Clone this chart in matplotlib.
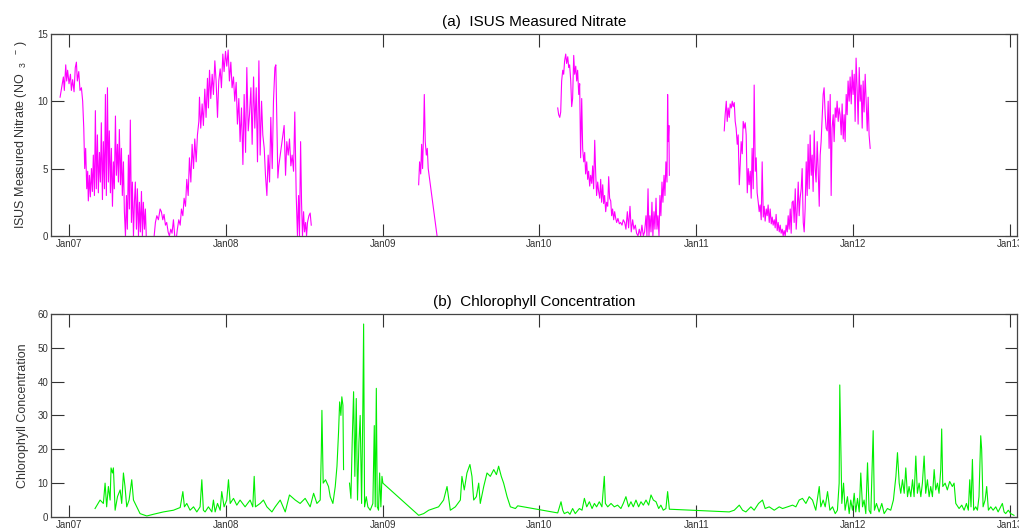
import numpy as np
import matplotlib
matplotlib.use("Agg")
import matplotlib.pyplot as plt

plt.rcParams['font.family'] = ['Liberation Sans', 'DejaVu Sans']
plt.rcParams['mathtext.default'] = 'regular'

# ISUS nitrate, time in decimal years (NaN = gap in record)
nitrate_year = [
    2006.943, 2006.953, 2006.964, 2006.970, 2006.979, 2006.985, 2006.991, 2007.000, 2007.009, 2007.015,
    2007.023, 2007.032, 2007.040, 2007.047, 2007.053, 2007.062, 2007.070, 2007.079, 2007.087, 2007.094,
    2007.100, 2007.106, 2007.113, 2007.119, 2007.123, 2007.130, 2007.136, 2007.143, 2007.149, 2007.155,
    2007.162, 2007.168, 2007.174, 2007.181, 2007.187, 2007.194, 2007.200, 2007.206, 2007.213, 2007.219,
    2007.226, 2007.232, 2007.238, 2007.245, 2007.251, 2007.257, 2007.264, 2007.270, 2007.277, 2007.283,
    2007.289, 2007.296, 2007.302, 2007.309, 2007.315, 2007.321, 2007.328, 2007.334, 2007.340, 2007.347,
    2007.353, 2007.360, 2007.366, 2007.372, 2007.379, 2007.385, 2007.391, 2007.398, 2007.404, 2007.411,
    2007.417, 2007.423, 2007.430, 2007.436, 2007.443, 2007.449, 2007.455, 2007.462, 2007.468, 2007.474,
    2007.481, 2007.487, 2007.494, np.nan,
    2007.543, 2007.551, 2007.560, 2007.570, 2007.581, 2007.589, 2007.598, 2007.606, 2007.615, 2007.623,
    2007.632, 2007.640, 2007.649, 2007.657, 2007.666, 2007.674, 2007.683, 2007.691, 2007.700, 2007.709,
    2007.717, 2007.726, 2007.734, 2007.743, 2007.751, 2007.760, 2007.768, 2007.777, 2007.785, 2007.794,
    2007.802, 2007.811, 2007.819, 2007.828, 2007.832, 2007.840, 2007.849, 2007.857, 2007.866, 2007.874,
    2007.883, 2007.889, 2007.896, 2007.904, 2007.913, 2007.921, 2007.930, 2007.938, 2007.947, 2007.955,
    2007.964, 2007.972, 2007.981, 2007.989, 2007.998, 2008.006, 2008.015, 2008.023, 2008.032, 2008.040,
    2008.049, 2008.057, 2008.066, 2008.074, 2008.083, 2008.091, 2008.100, 2008.109, 2008.117, 2008.126,
    2008.134, 2008.143, 2008.151, 2008.160, 2008.168, 2008.177, 2008.185, 2008.194, 2008.202, 2008.211,
    2008.219, 2008.228, 2008.236, 2008.245, 2008.253, 2008.262, 2008.270, 2008.279, 2008.287, 2008.296,
    2008.304, 2008.313, 2008.319, 2008.326, 2008.332, 2008.338, 2008.372, 2008.381, 2008.389, 2008.398,
    2008.406, 2008.415, 2008.423, 2008.432, 2008.440, 2008.449, 2008.457, 2008.464, 2008.470, 2008.477,
    2008.483, 2008.489, 2008.496, 2008.502, 2008.509, 2008.515, 2008.521, 2008.530, 2008.538, 2008.545,
    np.nan,
    2009.230, 2009.236, 2009.243, 2009.249, 2009.255, 2009.262, 2009.266, 2009.272, 2009.279, 2009.285,
    2009.291, 2009.347, 2009.353, np.nan,
    2010.117, 2010.123, 2010.130, 2010.136, 2010.142, 2010.149, 2010.155, 2010.161, 2010.168, 2010.174,
    2010.181, 2010.187, 2010.193, 2010.200, 2010.206, 2010.212, 2010.219, 2010.225, 2010.232, 2010.238,
    2010.244, 2010.251, 2010.257, 2010.263, 2010.270, 2010.276, 2010.283, 2010.289, 2010.295, 2010.302,
    2010.308, 2010.314, 2010.321, 2010.327, 2010.334, 2010.340, 2010.346, 2010.353, 2010.359, 2010.365,
    2010.372, 2010.378, 2010.385, 2010.391, 2010.397, 2010.404, 2010.410, 2010.416, 2010.423, 2010.429,
    2010.436, 2010.442, 2010.448, 2010.455, 2010.461, 2010.467, 2010.474, 2010.480, 2010.487, 2010.493,
    2010.501, 2010.510, 2010.518, 2010.527, 2010.535, 2010.544, 2010.552, 2010.561, 2010.569, 2010.578,
    2010.586, 2010.595, 2010.603, 2010.612, 2010.620, 2010.629, 2010.637, 2010.646, 2010.654, 2010.663,
    2010.671, 2010.680, 2010.686, 2010.693, 2010.699, 2010.705, 2010.712, 2010.718, 2010.724, 2010.731,
    2010.737, 2010.744, 2010.750, 2010.756, 2010.763, 2010.769, 2010.775, 2010.782, 2010.788, 2010.795,
    2010.801, 2010.807, 2010.814, 2010.818, 2010.822, 2010.826, 2010.829, np.nan,
    2011.179, 2011.185, 2011.192, 2011.198, 2011.204, 2011.211, 2011.217, 2011.224, 2011.230, 2011.236,
    2011.243, 2011.249, 2011.255, 2011.262, 2011.268, 2011.275, 2011.281, 2011.287, 2011.294, 2011.300,
    2011.306, 2011.313, 2011.319, 2011.326, 2011.332, 2011.338, 2011.345, 2011.351, 2011.357, 2011.364,
    2011.370, 2011.377, 2011.383, 2011.389, 2011.396, 2011.402, 2011.408, 2011.415, 2011.421, 2011.428,
    2011.434, 2011.440, 2011.447, 2011.453, 2011.459, 2011.466, 2011.472, 2011.479, 2011.485, 2011.491,
    2011.498, 2011.504, 2011.510, 2011.517, 2011.523, 2011.530, 2011.536, 2011.542, 2011.549, 2011.555,
    2011.561, 2011.568, 2011.574, 2011.581, 2011.587, 2011.593, 2011.600, 2011.606, 2011.612, 2011.619,
    2011.625, 2011.632, 2011.638, 2011.644, 2011.651, 2011.657, 2011.663, 2011.670, 2011.676, 2011.683,
    2011.689, 2011.695, 2011.702, 2011.708, 2011.714, 2011.721, 2011.727, 2011.734, 2011.740, 2011.746,
    2011.753, 2011.759, 2011.765, 2011.772, 2011.778, 2011.785, 2011.791, 2011.797, 2011.804, 2011.810,
    2011.816, 2011.823, 2011.829, 2011.836, 2011.842, 2011.848, 2011.855, 2011.861, 2011.867, 2011.874,
    2011.880, 2011.887, 2011.893, 2011.899, 2011.906, 2011.912, 2011.918, 2011.925, 2011.931, 2011.938,
    2011.944, 2011.950, 2011.957, 2011.963, 2011.969, 2011.976, 2011.982, 2011.989, 2011.995, 2012.001,
    2012.008, 2012.014, 2012.020, 2012.027, 2012.033, 2012.040, 2012.046, 2012.052, 2012.059, 2012.065,
    2012.071, 2012.078, 2012.084, 2012.091, 2012.097, 2012.103, 2012.110,
]
nitrate_val = [
    10.3, 11, 11.8, 10.8, 12.7, 11.5, 12.3, 11.3, 12, 10.8,
    11.6, 10.7, 12.5, 12.9, 11.5, 12.2, 10.8, 11, 10, 8,
    5, 6.5, 3.5, 4.8, 2.6, 4.5, 2.9, 5, 3.3, 6,
    3, 9.3, 3.5, 7.5, 3.2, 6.2, 4, 8.4, 2.7, 7,
    3.5, 10.5, 3, 11, 4, 7.8, 3.2, 6.5, 2.2, 5.5,
    3.5, 8.9, 4.5, 6.8, 4, 7.9, 3.8, 6.5, 3, 5.5,
    1.8, 0, 3, 0.5, 6, 2, 8.6, 1, 4, 0,
    2.5, 4, 0.5, 3.5, 0, 2.5, 0.3, 3.3, 0, 2.5,
    0.5, 2, -0.5, np.nan,
    0, 1, 1.5, 1.2, 2, 1.8, 1.2, 1.6, 0.8, 1,
    0.3, 0, 0.5, 0.2, 1.2, 0, -0.3, 0.5, 1.2, 0.8,
    2, 1.5, 2.8, 2.2, 4.2, 3, 5.8, 4, 6.8, 5,
    7.2, 5.5, 7.5, 8.5, 10.3, 8, 9.8, 8.2, 10.9, 8.8,
    11.7, 9.5, 12.3, 10.2, 12, 10.5, 13, 11.5, 8.8, 11.5,
    12.4, 11, 13.5, 12.2, 13.7, 12.6, 13.8, 11.5, 12.9, 11,
    11.8, 10, 11.4, 8.3, 10.2, 7, 9.5, 5.3, 10.5, 6.2,
    12.5, 7.8, 9, 11, 6.8, 11.8, 8, 11, 5.5, 13,
    6, 10, 7.5, 6.5, 4.5, 3, 6, 4, 8.8, 5,
    10, 12.5, 12.7, 8, 4.3, 5.2, 8.2, 4.5, 7, 6,
    7.2, 5.2, 6, 4.8, 9.2, 3, 0, 3, 0, 7,
    2.5, 0, 1.8, 0.3, 1, 0, 1, 1.5, 1.7, 0.8,
    np.nan,
    3.8, 5.5, 4.6, 6.8, 5, 8, 10.5, 7, 6, 6.5,
    5, 0, -0.5, np.nan,
    9.5, 9, 8.8, 9.2, 11.5, 12.3, 12, 13, 13.5, 12.8,
    13.3, 12.5, 12.7, 11.5, 9.6, 10.2, 13.4, 12, 12.6, 11.5,
    12.3, 10.5, 11.3, 5.8, 10.2, 6.5, 5.5, 6.2, 4.6, 5.5,
    4.2, 4.8, 3.7, 4.5, 3.9, 5.2, 3.5, 7.1, 4.7, 3,
    4, 3.3, 2.8, 4.2, 2.5, 3.8, 2.4, 3, 1.8, 2.5,
    2.2, 4.4, 2.8, 2.6, 1.5, 2, 1.2, 1.8, 1.3, 1,
    1.3, 0.9, 1, 0.8, 1.2, 1, 0.5, 1.8, 0.6, 2.2,
    0.3, 1.2, 0.5, 0.8, 0.2, 0, 0.5, 0, 0.8, 0,
    0.3, 1.5, 0, 3.5, 0, 1.5, 0.3, 2.5, 0, 1.8,
    0.5, 2.8, 0.5, 1.5, 0, 3, 1.5, 4, 2.5, 4.5,
    3, 5.5, 4, 10.5, 7, 8.2, 4.5, np.nan,
    7.8, 9, 10, 8.5, 9.5, 8.8, 9.8, 9.5, 10, 9.6,
    9.9, 8.5, 8, 6.8, 7.5, 3.8, 5.3, 7, 6.1, 8.5,
    8, 8.4, 7.5, 3.2, 5, 3.8, 4.8, 2.8, 6.5, 3.5,
    11.2, 4.8, 5.8, 3.2, 2.5, 1.8, 2.3, 1.2, 5.5, 1.4,
    2.2, 1.1, 2, 1.5, 2.3, 1, 2, 0.9, 1.4, 0.8,
    1.2, 0.6, 1.6, 0.4, 1, 0.3, 0.8, 0.2, 0.5, 0,
    0.4, 0, 0.8, 0.3, 1.5, 0.5, 2, 0.2, 2.5, 2.6,
    1, 3.5, 0.5, 1.8, 4, 1.5, 2.8, 3.5, 5, 1,
    0.3, 2, 5.5, 3, 6.8, 3.5, 7.5, 4.5, 6, 3.3,
    7.8, 5, 4, 7, 5, 2.2, 6, 7, 8.8, 10.5,
    11, 9, 8, 7.8, 10, 6.5, 10.5, 3, 8, 9,
    7, 9.5, 8.8, 10, 8.5, 9.5, 9, 7.5, 9.8, 7.2,
    9, 7, 10.5, 9, 11.5, 10, 11.8, 9.8, 12.3, 10.5,
    12, 8.5, 13.2, 10.8, 8.3, 12.5, 10, 11.2, 8, 11.5,
    9.2, 12, 10, 7.8, 10.3, 7.5, 6.5,
]

# chlorophyll concentration, time in decimal years
chl_year = [
    2007.166, 2007.198, 2007.219, 2007.230, 2007.240, 2007.251, 2007.262, 2007.268, 2007.277, 2007.283,
    2007.294, 2007.309, 2007.326, 2007.336, 2007.347, 2007.357, 2007.368, 2007.383, 2007.400, 2007.411,
    2007.432, 2007.453, 2007.496, 2007.538, 2007.602, 2007.666, 2007.709, 2007.726, 2007.736, 2007.751,
    2007.772, 2007.794, 2007.815, 2007.836, 2007.847, 2007.857, 2007.868, 2007.889, 2007.911, 2007.921,
    2007.932, 2007.947, 2007.964, 2007.974, 2007.989, 2008.006, 2008.017, 2008.028, 2008.049, 2008.070,
    2008.091, 2008.123, 2008.155, 2008.172, 2008.181, 2008.189, 2008.219, 2008.240, 2008.262, 2008.294,
    2008.315, 2008.347, 2008.379, 2008.406, 2008.443, 2008.474, 2008.506, 2008.538, 2008.560, 2008.581,
    2008.602, 2008.609, 2008.613, 2008.621, 2008.636, 2008.655, 2008.666, 2008.683, 2008.698, 2008.709,
    2008.719, 2008.726, 2008.734, 2008.740, 2008.747, 2008.751, np.nan,
    2008.789, 2008.798, 2008.806, 2008.815, 2008.823, 2008.832, 2008.840, 2008.849, 2008.857, 2008.866,
    2008.874, 2008.879, 2008.885, 2008.896, 2008.906, 2008.921, 2008.938, 2008.947, 2008.953, 2008.960,
    2008.966, 2008.974, 2008.981, 2008.989, 2008.996, 2009.002,
    2009.230, 2009.262, 2009.294, 2009.326, 2009.357, 2009.389, 2009.411, 2009.432, 2009.464, 2009.496,
    2009.506, 2009.521, 2009.538, 2009.557, 2009.570, 2009.581, 2009.598, 2009.613, 2009.623, 2009.645,
    2009.666, 2009.687, 2009.709, 2009.726, 2009.740, 2009.757, 2009.772, 2009.794, 2009.815, 2009.847,
    2009.862, 2010.117, 2010.138, 2010.149, 2010.159, 2010.181, 2010.195, 2010.212, 2010.229, 2010.255,
    2010.272, 2010.287, 2010.302, 2010.319, 2010.336, 2010.351, 2010.365, 2010.382, 2010.399, 2010.414,
    2010.421, 2010.436, 2010.457, 2010.478, 2010.499, 2010.520, 2010.535, 2010.552, 2010.569, 2010.584,
    2010.599, 2010.616, 2010.633, 2010.648, 2010.663, 2010.680, 2010.697, 2010.712, 2010.727, 2010.744,
    2010.761, 2010.775, 2010.790, 2010.807, 2010.818, 2010.829,
    2011.211, 2011.243, 2011.275, 2011.296, 2011.317, 2011.349, 2011.370, 2011.398, 2011.423, 2011.440,
    2011.466, 2011.498, 2011.530, 2011.551, 2011.583, 2011.615, 2011.636, 2011.657, 2011.678, 2011.700,
    2011.721, 2011.742, 2011.763, 2011.785, 2011.795, 2011.810, 2011.823, 2011.838, 2011.853, 2011.870,
    2011.887, 2011.901, 2011.912, 2011.916, 2011.923, 2011.929, 2011.940, 2011.950, 2011.965, 2011.976,
    2011.986, 2011.997, 2012.008, 2012.018, 2012.029, 2012.040, 2012.050, 2012.061, 2012.071, 2012.082,
    2012.093, 2012.103, 2012.114, 2012.129, 2012.137, 2012.150, 2012.167, 2012.184, 2012.199, 2012.220,
    2012.241, 2012.258, 2012.274, 2012.284, 2012.295, 2012.305, 2012.316, 2012.327, 2012.337, 2012.348,
    2012.358, 2012.369, 2012.380, 2012.390, 2012.401, 2012.411, 2012.422, 2012.433, 2012.443, 2012.454,
    2012.464, 2012.475, 2012.486, 2012.496, 2012.507, 2012.518, 2012.528, 2012.539, 2012.549, 2012.560,
    2012.566, 2012.573, 2012.588, 2012.602, 2012.617, 2012.634, 2012.645, 2012.656, 2012.677, 2012.694,
    2012.709, 2012.724, 2012.736, 2012.745, 2012.753, 2012.762, 2012.770, 2012.783, 2012.794, 2012.804,
    2012.815, 2012.821, 2012.830, 2012.843, 2012.853, 2012.864, 2012.879, 2012.894, 2012.911, 2012.926,
    2012.942, 2012.953, 2012.964, 2012.974, 2012.991, 2013.006, 2013.027,
]
chl_val = [
    2.5, 5, 4, 10, 3, 9, 5, 14.5, 13, 14.5,
    2, 6, 8, 4, 13, 9, 3, 5, 11, 5,
    3, 1, 0.3, 0.8, 1.5, 2, 2.8, 7.5, 3, 4,
    2, 3, 1.5, 3, 11, 2, 1.5, 3, 1.5, 5,
    1.5, 4, 2, 7.5, 3, 5, 11, 4, 5.5, 3.5,
    5, 3, 5, 3, 12, 3, 4, 5, 3, 1.5,
    3, 5, 1.5, 6.5, 5, 4, 5.5, 3, 7, 4,
    5, 19, 31.5, 10, 11, 9, 6, 4, 9, 15,
    25, 34, 30, 35.5, 33, 14, np.nan,
    10, 5.5, 22, 37, 12, 35, 5, 22, 30, 4,
    32, 57, 3, 6, 3, 2, 4, 27, 3, 38,
    3, 2, 13, 3, 12, 10,
    0.5, 1, 2, 2.5, 3, 5, 9, 2, 3, 5,
    12, 8, 13, 15.5, 12, 5, 6, 10, 4, 9,
    13, 12, 14, 12.5, 15, 12, 10, 6, 3, 2.5,
    3.3, 1.2, 4.5, 2, 1, 1.5, 0.8, 2.5, 1, 2.5,
    2, 5.5, 3, 4.5, 2.5, 4, 3, 4.5, 3, 12,
    4, 3, 4, 3, 3.5, 2.5, 4, 6, 3, 4.5,
    3, 5, 3, 4.5, 3.5, 5, 3.5, 6.5, 5, 4.5,
    2.5, 3.5, 2, 2.5, 7.5, 2.3,
    1.5, 2, 3.5, 2, 1.5, 3, 2, 4, 5, 2.5,
    3, 2, 3, 2.5, 3, 3.5, 3, 5, 5.5, 4,
    6, 5, 2, 9, 3, 5, 3, 7.5, 2, 3,
    1, 2, 10, 39, 20, 4, 10, 2, 6, 1,
    5, 2, 7, 1.5, 5.5, 1.5, 13, 3, 5, 1,
    16, 2, 1, 25.5, 2, 4, 1.5, 4, 1, 2.5,
    2, 5, 12, 19, 10, 7, 11, 7, 14.5, 6,
    9, 6, 11, 6, 18, 7, 10, 6, 10, 18,
    7, 11, 6, 9, 6, 14, 8, 10, 7, 14,
    26, 9, 10, 8, 10.5, 9, 10, 4, 2.5, 3.5,
    2, 4, 2, 11, 3, 17, 2, 3, 2, 6,
    24, 20, 3, 5, 9, 2, 3, 2, 3, 1.5,
    3, 4, 1.5, 1, 2, 1, 0.5,
]

year_ticks = [2007, 2008, 2009, 2010, 2011, 2012, 2013]
year_labels = ['Jan07', 'Jan08', 'Jan09', 'Jan10', 'Jan11', 'Jan12', 'Jan13']

fig = plt.figure(figsize=(10.2, 5.29), dpi=100)
ax1 = fig.add_axes([0.05, 0.554, 0.947, 0.382])
ax2 = fig.add_axes([0.05, 0.0227, 0.947, 0.384])

ax1.plot(nitrate_year, nitrate_val, color='#ff00ff', lw=0.8)
ax1.set_ylim(0, 15)
ax1.set_yticks([0, 5, 10, 15])
ax1.set_title('(a)  ISUS Measured Nitrate', fontsize=11, pad=6)
ax1.set_ylabel('ISUS Measured Nitrate (NO  $_{3}$  $^{-}$ )', fontsize=9, color='#333333')

ax2.plot(chl_year, chl_val, color='#00ee00', lw=0.8)
ax2.set_ylim(0, 60)
ax2.set_yticks(range(0, 61, 10))
ax2.set_title('(b)  Chlorophyll Concentration', fontsize=11, pad=6)
ax2.set_ylabel('Chlorophyll Concentration', fontsize=9, color='#333333')

for ax in (ax1, ax2):
    ax.set_xlim(2006.885, 2013.046)
    ax.set_xticks(year_ticks)
    ax.set_xticklabels(year_labels)
    ax.tick_params(direction='in', length=9, width=0.8, top=True, right=True,
                   labelsize=7, colors='#333333', pad=2)
    ax.yaxis.labelpad = 6
    for s in ax.spines.values():
        s.set_color('#444444')
        s.set_linewidth(0.9)

plt.savefig('out.png', dpi=100)
